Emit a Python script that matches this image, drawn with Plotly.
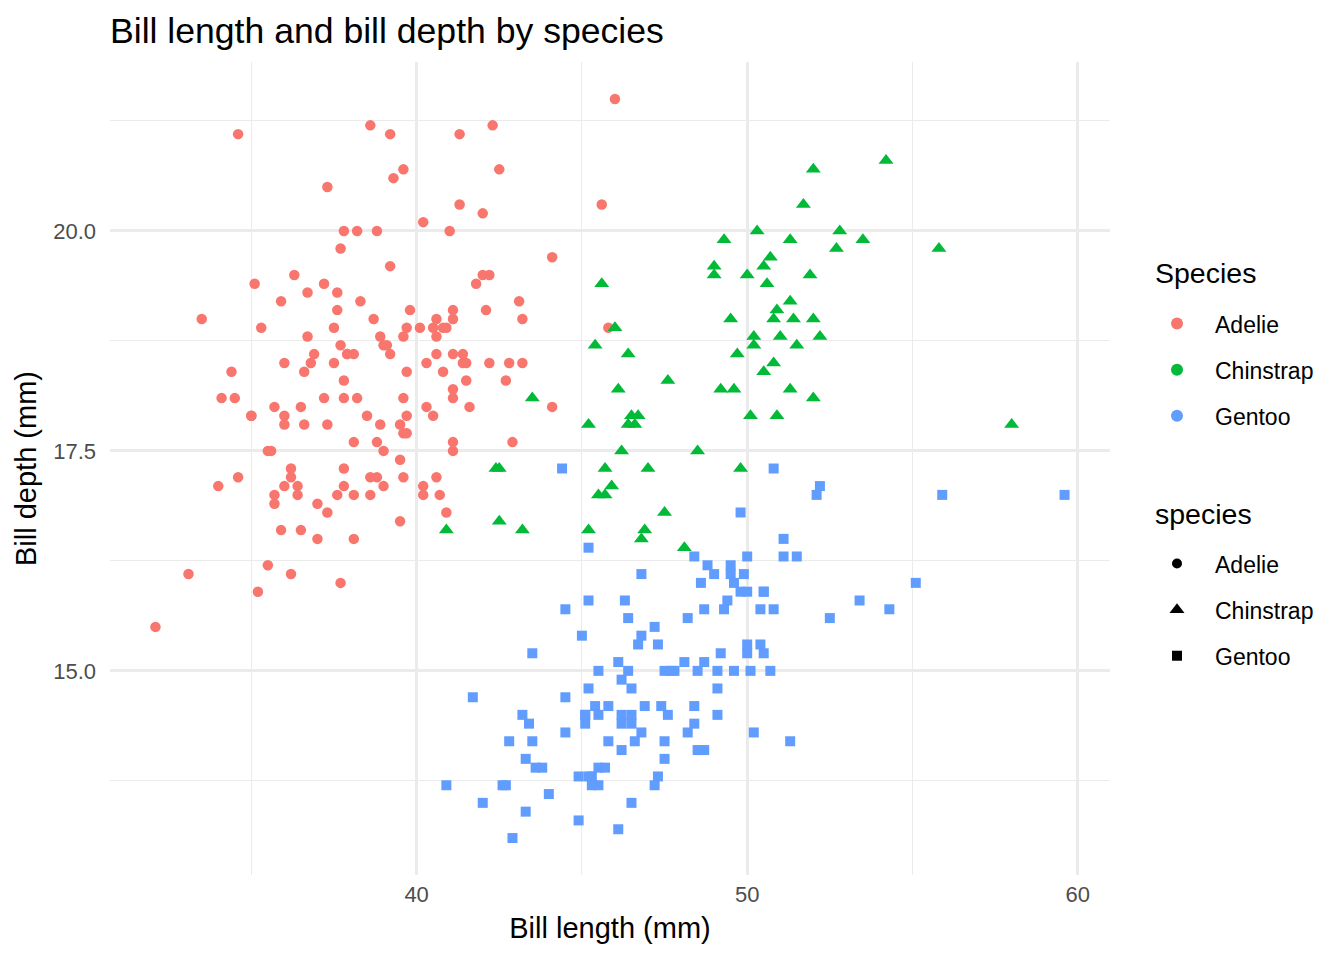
import plotly.graph_objects as go

# Adelie: bill length / bill depth (mm)
adelie_len = [39.1, 39.5, 40.3, 36.7, 39.3, 38.9, 39.2, 34.1, 42.0, 37.8, 37.8, 41.1, 38.6, 34.6, 36.6, 38.7,
              42.5, 34.4, 46.0, 37.8, 37.7, 35.9, 38.2, 38.8, 35.3, 40.6, 40.5, 37.9, 40.5, 39.5, 37.2, 39.5,
              40.9, 36.4, 39.2, 38.8, 42.2, 37.6, 39.8, 36.5, 40.8, 36.0, 44.1, 37.0, 39.6, 41.1, 37.5, 36.0,
              42.3, 39.6, 40.1, 35.0, 42.0, 34.5, 41.4, 39.0, 40.6, 36.5, 37.6, 35.7, 41.3, 37.6, 41.1, 36.4,
              41.6, 35.5, 41.1, 35.9, 41.8, 33.5, 39.7, 39.6, 45.8, 35.5, 42.8, 40.9, 37.2, 36.2, 42.1, 34.6,
              42.9, 36.7, 35.1, 37.3, 41.3, 36.3, 36.9, 38.3, 38.9, 35.7, 41.1, 34.0, 39.6, 36.2, 40.8, 38.1,
              40.3, 33.1, 43.2, 35.0, 41.0, 37.7, 37.8, 37.9, 39.7, 38.6, 38.2, 38.1, 43.2, 38.1, 45.6, 39.7,
              42.2, 39.6, 42.7, 38.6, 37.3, 35.7, 41.1, 36.2, 37.7, 40.2, 41.4, 35.2, 40.6, 38.8, 41.5, 39.0,
              44.1, 38.5, 43.1, 36.8, 37.5, 38.1, 41.1, 35.6, 40.2, 37.0, 39.7, 40.2, 40.6, 32.1, 40.7, 37.3,
              39.0, 39.2, 36.6, 36.0, 37.8, 36.0, 41.5]
adelie_dep = [18.7, 17.4, 18.0, 19.3, 20.6, 17.8, 19.6, 18.1, 20.2, 17.1, 17.3, 17.6, 21.2, 21.1, 17.8, 19.0,
              20.7, 18.4, 21.5, 18.3, 18.7, 19.2, 18.1, 17.2, 18.9, 18.6, 17.9, 18.6, 18.9, 16.7, 18.1, 17.8,
              18.9, 17.0, 21.1, 20.0, 18.5, 19.3, 19.1, 18.0, 18.4, 18.5, 19.7, 16.9, 18.8, 19.0, 18.9, 17.9,
              21.2, 17.7, 18.9, 17.9, 19.5, 18.1, 18.6, 17.5, 18.8, 16.6, 19.1, 16.9, 21.1, 17.0, 18.2, 17.1,
              18.0, 16.2, 19.1, 16.6, 19.4, 19.0, 18.4, 17.2, 18.9, 17.5, 18.5, 16.8, 19.4, 16.1, 19.1, 17.2,
              17.6, 18.8, 19.4, 17.8, 20.3, 19.5, 18.6, 19.2, 18.8, 18.0, 18.1, 17.1, 18.1, 17.3, 18.9, 18.6,
              18.5, 16.1, 18.5, 17.9, 20.0, 16.0, 20.0, 18.6, 18.9, 17.2, 20.0, 17.0, 19.0, 16.5, 20.3, 17.7,
              19.5, 20.7, 18.3, 17.0, 20.5, 17.0, 18.6, 17.2, 19.8, 17.0, 18.5, 15.9, 19.0, 17.6, 18.3, 17.1,
              18.0, 17.9, 19.2, 18.5, 18.5, 17.6, 17.5, 17.5, 20.1, 16.5, 17.9, 17.1, 17.2, 15.5, 17.0, 16.8,
              18.7, 18.6, 18.4, 17.8, 18.1, 17.1, 18.5]

# Gentoo
gentoo_len = [46.1, 50.0, 48.7, 50.0, 47.6, 46.5, 45.4, 46.7, 43.3, 46.8, 40.9, 49.0, 45.5, 48.4, 45.8, 49.3,
              42.0, 49.2, 46.2, 48.7, 50.2, 45.1, 46.5, 46.3, 42.9, 46.1, 44.5, 47.8, 48.2, 50.0, 47.3, 42.8,
              45.1, 59.6, 49.1, 48.4, 42.6, 44.4, 44.0, 48.7, 42.7, 49.6, 45.3, 49.6, 50.5, 43.6, 45.5, 50.5,
              44.9, 45.2, 46.6, 48.5, 45.1, 50.1, 46.5, 45.0, 43.8, 45.5, 43.2, 50.4, 45.3, 46.2, 45.7, 54.3,
              45.8, 49.8, 46.2, 49.5, 43.5, 50.7, 47.7, 46.4, 48.2, 46.5, 46.4, 48.6, 47.5, 51.1, 45.2, 45.2,
              49.1, 52.5, 47.4, 50.0, 44.9, 50.8, 43.4, 51.3, 47.5, 52.1, 47.5, 52.2, 45.5, 49.5, 44.5, 50.8,
              49.4, 46.9, 48.4, 51.1, 48.5, 55.9, 47.2, 49.1, 47.3, 46.8, 41.7, 53.4, 43.3, 48.1, 50.5, 49.8,
              43.5, 51.5, 46.2, 55.1, 44.5, 48.8, 47.2, 46.8, 50.4, 45.2, 49.9]
gentoo_dep = [13.2, 16.3, 14.1, 15.2, 14.5, 13.5, 14.6, 15.3, 13.4, 15.4, 13.7, 16.1, 13.7, 14.6, 14.6, 15.7,
              13.5, 15.2, 14.5, 15.1, 14.3, 14.5, 14.5, 15.8, 13.1, 15.1, 14.3, 15.0, 14.3, 15.3, 15.3, 14.2,
              14.5, 17.0, 14.8, 16.3, 13.7, 17.3, 13.6, 15.7, 13.7, 16.0, 13.7, 15.0, 15.9, 13.9, 13.9, 15.9,
              13.3, 15.8, 14.2, 14.1, 14.4, 15.0, 14.4, 15.4, 13.9, 15.0, 14.5, 15.3, 13.8, 14.9, 13.9, 15.7,
              14.2, 16.8, 14.4, 16.2, 14.2, 15.0, 15.0, 15.6, 15.6, 14.8, 15.0, 16.0, 14.2, 16.3, 13.8, 16.4,
              14.5, 15.6, 14.6, 15.9, 13.8, 17.3, 14.4, 14.2, 14.0, 17.0, 15.0, 17.1, 14.5, 16.1, 14.7, 15.7,
              15.8, 14.6, 14.4, 16.5, 15.0, 17.0, 15.5, 15.0, 13.8, 16.1, 14.7, 15.8, 14.0, 15.1, 15.2, 15.9,
              15.2, 16.3, 14.1, 16.0, 15.7, 16.2, 13.7, 14.3, 15.7, 14.8, 16.1]

# Chinstrap
chinstrap_len = [46.5, 50.0, 51.3, 45.4, 52.7, 45.2, 46.1, 51.3, 46.0, 51.3, 46.6, 51.7, 47.0, 52.0, 45.9, 50.5,
                 50.3, 58.0, 46.4, 49.2, 42.4, 48.5, 43.2, 50.6, 46.7, 52.0, 50.5, 49.5, 46.4, 52.8, 40.9, 54.2,
                 42.5, 51.0, 49.7, 47.5, 47.6, 52.0, 46.9, 53.5, 49.0, 46.2, 50.9, 45.5, 50.9, 50.8, 50.1, 49.0,
                 51.5, 49.8, 48.1, 51.4, 45.7, 50.7, 42.5, 52.2, 45.2, 49.3, 50.2, 45.6, 51.9, 46.8, 45.7, 55.8,
                 43.5, 49.6, 50.8, 50.2]
chinstrap_dep = [17.9, 19.5, 19.2, 18.7, 19.8, 17.8, 18.2, 18.2, 18.9, 19.9, 17.8, 20.3, 17.3, 18.1, 17.1, 19.6,
                 20.0, 17.8, 18.6, 18.2, 17.3, 17.5, 16.6, 19.4, 17.9, 19.0, 18.4, 19.0, 17.8, 20.0, 16.6, 20.8,
                 16.7, 18.8, 18.6, 16.8, 18.3, 20.7, 16.6, 19.9, 19.5, 17.5, 19.1, 17.0, 17.9, 18.5, 17.9, 19.6,
                 18.7, 17.3, 16.4, 19.0, 17.3, 19.7, 17.3, 18.8, 16.6, 19.9, 18.8, 19.4, 19.5, 16.5, 17.0, 19.8,
                 18.1, 18.2, 19.0, 18.7]

species = ['Adelie', 'Chinstrap', 'Gentoo']
colors = ['#F8766D', '#00BA38', '#619CFF']
symbols = ['circle', 'triangle-up', 'square']
marker_sizes = [10.5, 13, 10]
x_ticks = [40, 50, 60]
y_ticks = [15.0, 17.5, 20.0]

FONT = 'Liberation Sans, Arial, sans-serif'


def main():
    fig = go.Figure()
    data = [(adelie_len, adelie_dep), (chinstrap_len, chinstrap_dep), (gentoo_len, gentoo_dep)]
    for (x, y), name, col, sym, sz in zip(data, species, colors, symbols, marker_sizes):
        fig.add_trace(go.Scatter(x=x, y=y, mode='markers', name=name, showlegend=False,
                                 marker=dict(color=col, symbol=sym, size=sz, line=dict(width=0))))

    # legend "Species" (colour)
    for name, col in zip(species, colors):
        fig.add_trace(go.Scatter(x=[None], y=[None], mode='markers', name=name,
                                 legend='legend', legendgroup='c' + name,
                                 marker=dict(color=col, symbol='circle', size=12)))
    # legend "species" (shape)
    for name, sym, sz in zip(species, symbols, [10, 13, 10]):
        fig.add_trace(go.Scatter(x=[None], y=[None], mode='markers', name=name,
                                 legend='legend2', legendgroup='s' + name,
                                 marker=dict(color='black', symbol=sym, size=sz)))

    axis_common = dict(
        showgrid=True, gridcolor='#EBEBEB', gridwidth=2.6,
        zeroline=False, showline=False, ticks='',
        tickfont=dict(family=FONT, size=22, color='#4D4D4D'),
    )
    fig.update_xaxes(
        range=[30.725, 60.975], tickvals=x_ticks,
        minor=dict(dtick=5, tick0=0, showgrid=True, gridcolor='#EBEBEB', gridwidth=1.4),
        title=dict(text='Bill length (mm)', font=dict(family=FONT, size=29, color='black'), standoff=11),
        ticklabelstandoff=4,
        **axis_common
    )
    fig.update_yaxes(
        range=[12.68, 21.92], tickvals=y_ticks, tickformat='.1f',
        minor=dict(dtick=1.25, tick0=0, showgrid=True, gridcolor='#EBEBEB', gridwidth=1.4),
        title=dict(text='Bill depth (mm)', font=dict(family=FONT, size=29, color='black'), standoff=8),
        ticklabelstandoff=13,
        **axis_common
    )

    legend_common = dict(
        xanchor='left', yanchor='top', x=1.029,
        itemwidth=66, traceorder='grouped', tracegroupgap=13.2,
        font=dict(family=FONT, size=23, color='black'),
        bgcolor='rgba(0,0,0,0)', borderwidth=0,
        itemclick=False, itemdoubleclick=False,
    )
    fig.update_layout(
        width=1336, height=952,
        margin=dict(l=102, r=234, t=54, b=85),
        plot_bgcolor='white', paper_bgcolor='white',
        font=dict(family=FONT, color='black'),
        title=dict(text='Bill length and bill depth by species', xref='paper', x=0, xanchor='left',
                   yref='container', y=1 - 23 / 952, yanchor='middle',
                   font=dict(family=FONT, size=35.6, color='black')),
        legend=dict(y=0.7046, **legend_common),
        legend2=dict(y=0.4095, **legend_common),
        annotations=[
            dict(text='Species', xref='paper', yref='paper', x=1.043, y=(875 - 273) / 813,
                 xanchor='left', yanchor='middle', showarrow=False,
                 font=dict(family=FONT, size=28.5, color='black')),
            dict(text='species', xref='paper', yref='paper', x=1.043, y=(875 - 514) / 813,
                 xanchor='left', yanchor='middle', showarrow=False,
                 font=dict(family=FONT, size=28.5, color='black')),
        ],
    )
    fig.write_html('out.html')


if __name__ == '__main__':
    main()
